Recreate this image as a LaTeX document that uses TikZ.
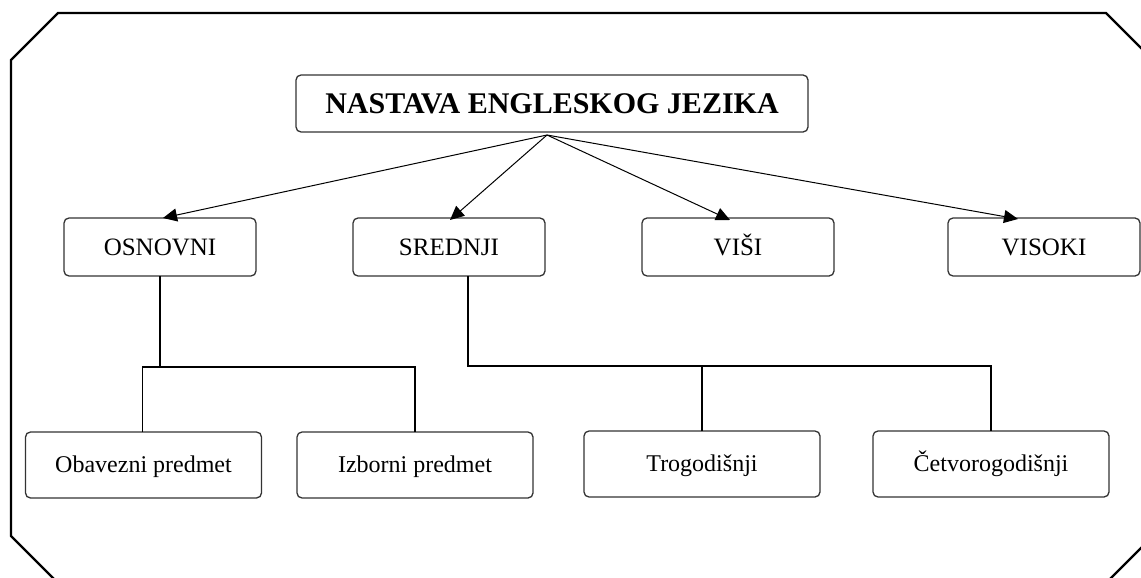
\documentclass[tikz,border=0pt]{standalone}
\usepackage{fontspec}
\setmainfont{Liberation Serif}
\usepackage{tikz}
\usetikzlibrary{arrows.meta}
\tikzstyle{box}=[draw=black!80, line width=1.3pt, rounded corners=5pt, inner sep=0, outer sep=0, text depth=0pt]
\tikzstyle{titlebox}=[box, minimum width=512pt, minimum height=57pt, text height=19.8pt,
                      font=\fontsize{30}{32}\selectfont\bfseries]
\tikzstyle{levelbox}=[box, minimum width=192pt, minimum height=58pt, text height=16.5pt,
                      font=\fontsize{25}{27}\selectfont]
\tikzstyle{subbox}=[box, minimum width=236pt, minimum height=66pt, text height=15.8pt,
                    font=\fontsize{24}{26}\selectfont]
\tikzstyle{link}=[line width=1pt, -{Triangle[length=14pt, width=13pt]}]
\tikzstyle{tree}=[line width=1.2pt]
\tikzstyle{frame}=[line width=2.2pt, line join=miter]

\begin{document}
\begin{tikzpicture}[x=1pt, y=-1pt]
        \clip (0, 0) rectangle (1141, 578);
        % Outer frame, partly cut off at right and bottom.
        \draw[frame] (58, 13) -- (1106, 13) -- (1153, 60) -- (1153, 536)
            -- (1106, 583) -- (58, 583) -- (11, 536) -- (11, 60) -- cycle;
        \node[titlebox] (T) at (552, 103.5) {NASTAVA ENGLESKOG JEZIKA};
        \node[levelbox] (L1) at (160, 247) {OSNOVNI};
        \node[levelbox] (L2) at (449, 247) {SREDNJI};
        \node[levelbox] (L3) at (738, 247) {VIŠI};
        \node[levelbox] (L4) at (1044, 247) {VISOKI};
        \node[subbox] (B1) at (143.5, 465) {Obavezni predmet};
        \node[subbox] (B2) at (415, 465) {Izborni predmet};
        \node[subbox] (B3) at (702, 464) {Trogodišnji};
        \node[subbox] (B4) at (991, 464) {Četvorogodišnji};
        \coordinate (H) at (547, 135);
        \coordinate (R1) at (0, 367);
        \coordinate (R2) at (0, 366);
        \draw[link] (H) -- ([xshift=3]L1.north);
        \draw[link] (H) -- ([xshift=1, yshift=-2]L2.north);
        \draw[link] (H) -- ([xshift=-8, yshift=-2]L3.north);
        \draw[link] (H) -- ([xshift=-26, yshift=-1]L4.north);
        \draw[tree] (L1.south) -- (L1.south |- R1);
        \draw[tree] ([xshift=-1]B1.north) |- (B2.north |- R1) -- (B2.north);
        \draw[tree] ([xshift=19]L2.south) |- (B4.north |- R2) -- (B4.north);
        \draw[tree] (B3.north) -- (B3.north |- R2);
    \end{tikzpicture}
\end{document}
